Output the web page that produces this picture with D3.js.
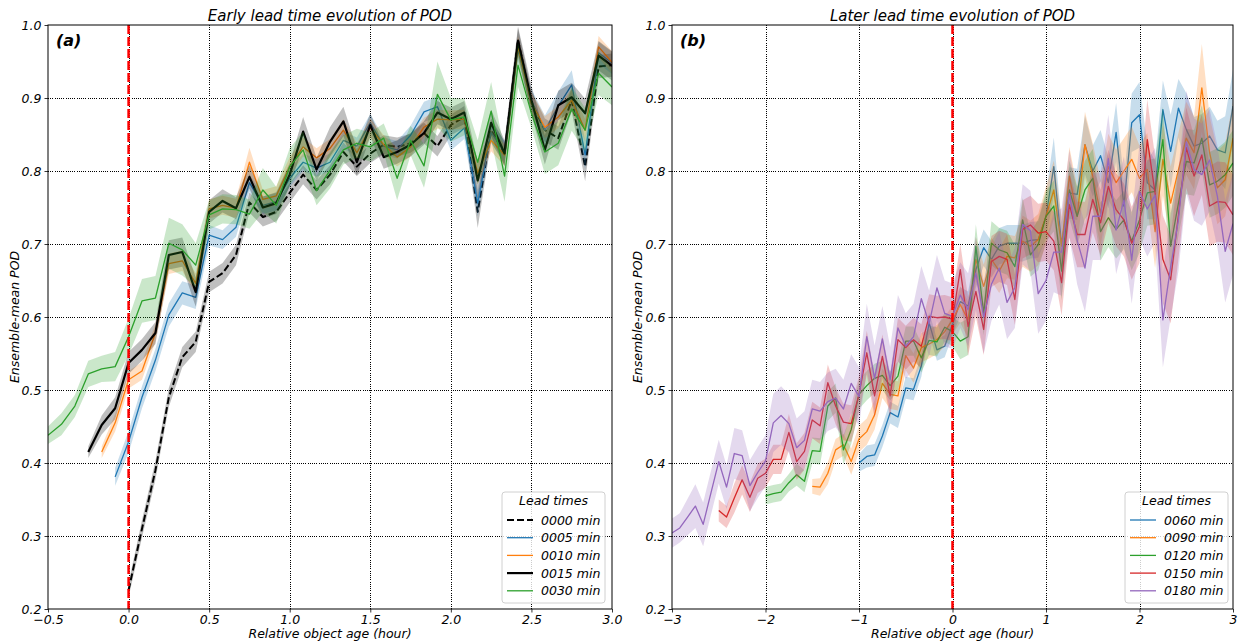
<!DOCTYPE html>
<html>
<head>
<meta charset="utf-8">
<script src="https://cdn.jsdelivr.net/npm/d3@7"></script>
<style>
body { margin: 0; background: #fff; }
svg text { font-family: "DejaVu Sans", sans-serif; font-style: italic; fill: #000; }
</style>
</head>
<body>
<svg id="chart" width="1241" height="641"></svg>
<script>
// ---- data (5-minute steps, x in hours) ----
const STEP = 1 / 12;
const yTicks = [0.2, 0.3, 0.4, 0.5, 0.6, 0.7, 0.8, 0.9, 1.0];
const xTicksA = [-0.5, 0, 0.5, 1, 1.5, 2, 2.5, 3];
const xTicksB = [-3, -2, -1, 0, 1, 2, 3];

// panel (a): early lead times
const leadA = ["0000 min", "0005 min", "0010 min", "0015 min", "0030 min"];
const startA = [0, -1 / 12, -2 / 12, -3 / 12, -6 / 12];
const pod0000 = [0.226,0.31,0.39,0.49,0.545,0.566,0.648,0.66,0.685,0.757,0.737,0.744,0.77,0.795,0.774,0.795,0.826,0.806,0.824,0.836,0.833,0.838,0.852,0.834,0.863,0.874,0.744,0.856,0.824,0.98,0.893,0.856,0.845,0.897,0.806,0.943,0.945];
const pod0005 = [0.381,0.429,0.49,0.541,0.603,0.633,0.627,0.712,0.706,0.723,0.784,0.753,0.758,0.79,0.812,0.804,0.812,0.842,0.834,0.866,0.834,0.829,0.849,0.881,0.888,0.842,0.859,0.756,0.853,0.826,0.966,0.897,0.856,0.889,0.918,0.822,0.962,0.948];
const pod0010 = [0.415,0.455,0.514,0.526,0.578,0.673,0.677,0.646,0.748,0.753,0.749,0.812,0.761,0.766,0.806,0.833,0.818,0.831,0.856,0.825,0.859,0.836,0.819,0.833,0.86,0.871,0.87,0.871,0.797,0.842,0.822,0.97,0.893,0.86,0.874,0.897,0.856,0.97,0.949];
const pod0015 = [0.415,0.452,0.475,0.537,0.555,0.578,0.685,0.689,0.634,0.744,0.759,0.749,0.792,0.75,0.756,0.795,0.854,0.802,0.84,0.868,0.812,0.863,0.819,0.826,0.836,0.852,0.88,0.871,0.88,0.787,0.866,0.824,0.978,0.897,0.829,0.89,0.901,0.879,0.958,0.944];
const pod0030 = [0.438,0.453,0.478,0.522,0.529,0.532,0.573,0.622,0.626,0.701,0.692,0.671,0.74,0.748,0.747,0.741,0.774,0.753,0.806,0.829,0.773,0.801,0.829,0.838,0.833,0.845,0.79,0.842,0.807,0.905,0.87,0.874,0.812,0.882,0.793,0.945,0.879,0.826,0.838,0.885,0.856,0.934,0.915];
// half-width of the shaded spread
const hw0000 = [0.01,0.012,0.013,0.013,0.014,0.014,0.014,0.014,0.014,0.014,0.013,0.013,0.013,0.013,0.013,0.013,0.013,0.013,0.013,0.013,0.013,0.013,0.014,0.014,0.014,0.015,0.022,0.016,0.016,0.016,0.016,0.016,0.016,0.016,0.02,0.016,0.016];
const hw0005 = [0.012,0.015,0.015,0.015,0.016,0.016,0.016,0.014,0.013,0.013,0.012,0.012,0.012,0.012,0.012,0.012,0.012,0.012,0.012,0.012,0.012,0.012,0.013,0.014,0.014,0.014,0.015,0.018,0.015,0.015,0.015,0.015,0.02,0.02,0.02,0.02,0.015,0.015];
const hw0010 = [0.008,0.012,0.012,0.012,0.012,0.014,0.014,0.014,0.013,0.013,0.013,0.02,0.013,0.013,0.013,0.013,0.013,0.013,0.015,0.013,0.013,0.013,0.013,0.013,0.013,0.013,0.013,0.013,0.015,0.015,0.015,0.015,0.015,0.015,0.015,0.015,0.015,0.015,0.015];
const hw0015 = [0.008,0.013,0.015,0.015,0.015,0.015,0.02,0.02,0.02,0.016,0.016,0.015,0.016,0.015,0.015,0.016,0.02,0.016,0.02,0.02,0.018,0.016,0.016,0.016,0.016,0.016,0.016,0.016,0.016,0.025,0.018,0.018,0.02,0.02,0.02,0.02,0.02,0.02,0.02,0.02];
const hw0030 = [0.012,0.015,0.015,0.018,0.018,0.02,0.025,0.03,0.03,0.035,0.035,0.03,0.02,0.02,0.02,0.02,0.03,0.025,0.025,0.025,0.02,0.025,0.02,0.02,0.02,0.02,0.03,0.02,0.03,0.045,0.03,0.025,0.03,0.04,0.035,0.03,0.02,0.03,0.03,0.03,0.03,0.03,0.025];

// panel (b): later lead times
const leadB = ["0060 min", "0090 min", "0120 min", "0150 min", "0180 min"];
const startB = [-1, -1.5, -2, -2.5, -3];
const pod0060 = [0.4,0.409,0.411,0.437,0.469,0.463,0.503,0.501,0.533,0.592,0.555,0.56,0.59,
  0.621,0.615,0.665,0.695,0.679,0.697,0.701,0.701,0.701,0.705,0.706,0.738,0.806,0.7,0.77,0.768,0.836,0.8,0.821,0.784,0.853,0.752,0.866,0.877,0.784,0.774,0.884,0.827,0.886,0.857,0.834,0.838,0.848,0.829,0.825,0.889];
const pod0090 = [0.368,0.367,0.386,0.418,0.425,0.402,0.433,0.443,0.466,0.509,0.494,0.492,0.547,0.53,0.558,0.563,0.569,0.58,0.596,
  0.617,0.596,0.679,0.642,0.679,0.663,0.683,0.681,0.704,0.697,0.706,0.738,0.774,0.697,0.793,0.738,0.836,0.793,0.742,0.806,0.784,0.8,0.816,0.79,0.802,0.717,0.816,0.756,0.802,0.845,0.825,0.914,0.825,0.777,0.788,0.845];
const pod0120 = [0.355,0.358,0.36,0.373,0.384,0.375,0.417,0.416,0.478,0.489,0.418,0.446,0.494,0.506,0.516,0.52,0.506,0.519,0.567,0.567,0.544,0.568,0.566,0.586,0.58,
  0.567,0.573,0.697,0.605,0.701,0.692,0.688,0.669,0.733,0.685,0.699,0.738,0.752,0.663,0.774,0.738,0.774,0.79,0.717,0.736,0.72,0.733,0.704,0.733,0.77,0.772,0.843,0.697,0.756,0.813,0.811,0.845,0.781,0.786,0.795,0.811];
const pod0150 = [0.335,0.326,0.352,0.377,0.353,0.379,0.386,0.405,0.405,0.442,0.402,0.416,0.459,0.451,0.51,0.478,0.456,0.454,0.494,0.551,0.492,0.546,0.492,0.569,0.558,0.569,0.56,0.601,0.599,0.6,0.597,
  0.665,0.587,0.635,0.583,0.676,0.683,0.679,0.624,0.72,0.726,0.715,0.717,0.704,0.647,0.754,0.713,0.713,0.761,0.729,0.779,0.747,0.733,0.701,0.724,0.843,0.77,0.679,0.651,0.74,0.832,0.793,0.822,0.752,0.758,0.757,0.74];
const pod0180 = [0.304,0.311,0.326,0.341,0.316,0.359,0.402,0.367,0.413,0.41,0.369,0.387,0.403,0.455,0.465,0.454,0.421,0.431,0.474,0.471,0.484,0.489,0.474,0.509,0.491,0.573,0.516,0.57,0.514,0.585,0.56,0.573,0.625,0.591,0.64,0.605,0.601,
  0.63,0.61,0.66,0.6,0.645,0.667,0.62,0.64,0.727,0.718,0.632,0.65,0.689,0.689,0.769,0.705,0.667,0.738,0.738,0.817,0.719,0.76,0.678,0.772,0.748,0.767,0.596,0.669,0.733,0.84,0.802,0.795,0.815,0.765,0.69,0.728];
const hw0060 = [0.012,0.015,0.015,0.015,0.015,0.015,0.015,0.015,0.015,0.015,0.015,0.015,0.015,
  0.02,0.02,0.025,0.025,0.025,0.025,0.025,0.025,0.025,0.025,0.025,0.03,0.04,0.03,0.035,0.035,0.04,0.035,0.035,0.035,0.04,0.035,0.04,0.045,0.05,0.04,0.04,0.05,0.04,0.05,0.04,0.04,0.04,0.04,0.05,0.05];
const hw0090 = [0.01,0.012,0.015,0.015,0.015,0.018,0.018,0.018,0.02,0.02,0.02,0.02,0.02,0.02,0.02,0.02,0.02,0.02,0.02,
  0.025,0.025,0.03,0.03,0.03,0.03,0.03,0.03,0.035,0.035,0.035,0.04,0.04,0.04,0.04,0.04,0.045,0.045,0.045,0.045,0.045,0.045,0.045,0.045,0.05,0.05,0.05,0.05,0.05,0.05,0.05,0.06,0.05,0.05,0.05,0.05];
const hw0120 = [0.012,0.012,0.012,0.012,0.015,0.015,0.018,0.018,0.02,0.02,0.02,0.02,0.02,0.02,0.02,0.02,0.02,0.02,0.02,0.02,0.02,0.02,0.02,0.02,0.02,
  0.025,0.025,0.03,0.03,0.03,0.03,0.03,0.03,0.03,0.03,0.035,0.035,0.035,0.04,0.04,0.04,0.04,0.04,0.04,0.04,0.04,0.04,0.04,0.045,0.045,0.045,0.045,0.045,0.045,0.045,0.045,0.045,0.045,0.045,0.045,0.045];
const hw0150 = [0.015,0.015,0.02,0.02,0.02,0.02,0.02,0.02,0.02,0.025,0.025,0.025,0.025,0.025,0.025,0.025,0.025,0.025,0.025,0.03,0.03,0.03,0.03,0.03,0.03,0.03,0.03,0.03,0.03,0.03,0.03,
  0.035,0.04,0.035,0.035,0.035,0.035,0.035,0.035,0.04,0.04,0.04,0.04,0.04,0.045,0.045,0.045,0.045,0.045,0.045,0.05,0.05,0.05,0.05,0.05,0.055,0.05,0.06,0.06,0.06,0.055,0.055,0.055,0.055,0.055,0.055,0.055];
const hw0180 = [0.02,0.02,0.025,0.03,0.03,0.03,0.03,0.03,0.035,0.035,0.035,0.035,0.035,0.04,0.04,0.04,0.04,0.04,0.04,0.04,0.04,0.04,0.04,0.04,0.04,0.045,0.045,0.045,0.045,0.045,0.045,0.045,0.045,0.045,0.045,0.045,0.045,
  0.045,0.05,0.05,0.05,0.05,0.05,0.05,0.055,0.055,0.055,0.055,0.055,0.055,0.06,0.06,0.06,0.06,0.06,0.06,0.06,0.06,0.06,0.06,0.065,0.065,0.065,0.065,0.07,0.07,0.07,0.07,0.07,0.07,0.07,0.07,0.07];

const tab = { blue: "#1f77b4", orange: "#ff7f0e", green: "#2ca02c", red: "#d62728", purple: "#9467bd" };

// ---- build series lists ----
function mk(name, start, vals, hw, color, width, dash) {
  const pts = vals.map((v, i) => ({
    x: start + i * STEP,
    y: v,
    h: hw[i] !== undefined ? hw[i] : hw[hw.length - 1]
  }));
  return { name, pts, color, width, dash };
}

const seriesA = [
  mk(leadA[0], startA[0], pod0000, hw0000, "#000", 2, "7,3"),
  mk(leadA[1], startA[1], pod0005, hw0005, tab.blue, 1.3, null),
  mk(leadA[2], startA[2], pod0010, hw0010, tab.orange, 1.3, null),
  mk(leadA[3], startA[3], pod0015, hw0015, "#000", 2.2, null),
  mk(leadA[4], startA[4], pod0030, hw0030, tab.green, 1.3, null)
];
const seriesB = [
  mk(leadB[0], startB[0], pod0060, hw0060, tab.blue, 1.3, null),
  mk(leadB[1], startB[1], pod0090, hw0090, tab.orange, 1.3, null),
  mk(leadB[2], startB[2], pod0120, hw0120, tab.green, 1.3, null),
  mk(leadB[3], startB[3], pod0150, hw0150, tab.red, 1.3, null),
  mk(leadB[4], startB[4], pod0180, hw0180, tab.purple, 1.3, null)
];

const svg = d3.select("#chart");
const TOP = 25, BOTTOM = 609;

function drawPanel(cfg) {
  const x = d3.scaleLinear().domain(cfg.xDomain).range([cfg.left, cfg.right]);
  const y = d3.scaleLinear().domain([0.2, 1.0]).range([BOTTOM, TOP]);
  const g = svg.append("g");

  g.append("clipPath").attr("id", cfg.id + "clip")
    .append("rect")
    .attr("x", cfg.left).attr("y", TOP)
    .attr("width", cfg.right - cfg.left).attr("height", BOTTOM - TOP);

  // grid (black dotted)
  const grid = g.append("g").attr("stroke", "#000").attr("stroke-width", 1)
    .attr("stroke-dasharray", "1,1.2").attr("shape-rendering", "crispEdges");
  grid.selectAll(".gx").data(cfg.xTicks.slice(1, -1)).enter().append("line")
    .attr("x1", d => Math.round(x(d)) + 0.5).attr("x2", d => Math.round(x(d)) + 0.5)
    .attr("y1", TOP).attr("y2", BOTTOM);
  grid.selectAll(".gy").data(yTicks.slice(1, -1)).enter().append("line")
    .attr("x1", cfg.left).attr("x2", cfg.right)
    .attr("y1", d => Math.round(y(d)) + 0.5).attr("y2", d => Math.round(y(d)) + 0.5);

  // spreads and lines
  const plot = g.append("g").attr("clip-path", "url(#" + cfg.id + "clip)");
  const area = d3.area().x(d => x(d.x)).y0(d => y(d.y - d.h)).y1(d => y(d.y + d.h));
  const line = d3.line().x(d => x(d.x)).y(d => y(d.y));
  cfg.series.forEach(s => {
    plot.append("path").datum(s.pts)
      .attr("d", area)
      .attr("fill", s.color)
      .attr("fill-opacity", 0.25)
      .attr("stroke", "none");
    plot.append("path").datum(s.pts)
      .attr("d", line)
      .attr("fill", "none")
      .attr("stroke", s.color)
      .attr("stroke-width", s.width)
      .attr("stroke-dasharray", s.dash)
      .attr("stroke-linejoin", "round");
  });

  // zero line
  g.append("line")
    .attr("x1", x(0)).attr("x2", x(0))
    .attr("y1", TOP).attr("y2", BOTTOM)
    .attr("stroke", "red").attr("stroke-width", 2.5)
    .attr("stroke-dasharray", "9,3");

  // axes
  const xAxis = d3.axisBottom(x).tickValues(cfg.xTicks).tickFormat(cfg.xFormat)
    .tickSizeInner(3.5).tickSizeOuter(0).tickPadding(3);
  const yAxis = d3.axisLeft(y).tickValues(yTicks).tickFormat(d3.format(".1f"))
    .tickSizeInner(3.5).tickSizeOuter(0).tickPadding(3);
  const ax = g.append("g").attr("transform", "translate(0," + BOTTOM + ")").call(xAxis);
  const ay = g.append("g").attr("transform", "translate(" + cfg.left + ",0)").call(yAxis);
  [ax, ay].forEach(a => {
    a.select(".domain").remove();
    a.selectAll("line").attr("stroke", "#000").attr("stroke-width", 0.8);
    a.selectAll("text").attr("font-size", "12.5px")
      .style("font-family", "DejaVu Sans").style("font-style", "italic");
  });

  // frame
  g.append("rect")
    .attr("x", cfg.left).attr("y", TOP)
    .attr("width", cfg.right - cfg.left).attr("height", BOTTOM - TOP)
    .attr("fill", "none").attr("stroke", "#000").attr("stroke-width", 1);

  // texts
  const cx = (cfg.left + cfg.right) / 2;
  g.append("text").attr("x", cx).attr("y", 21)
    .attr("text-anchor", "middle").attr("font-size", "15px").text(cfg.title);
  g.append("text").attr("x", cx).attr("y", 638)
    .attr("text-anchor", "middle").attr("font-size", "12.5px").text("Relative object age (hour)");
  g.append("text")
    .attr("transform", "translate(" + cfg.ylabX + "," + ((TOP + BOTTOM) / 2) + ") rotate(-90)")
    .attr("text-anchor", "middle").attr("font-size", "12.5px").text("Ensemble-mean POD");
  g.append("text").attr("x", cfg.left + 8).attr("y", 46)
    .attr("font-size", "16px").attr("font-weight", "bold").text(cfg.tag);

  // legend
  const lg = g.append("g").attr("transform", "translate(" + cfg.legX + ",492)");
  lg.append("rect").attr("width", 103).attr("height", 111).attr("rx", 3)
    .attr("fill", "#fff").attr("fill-opacity", 0.8)
    .attr("stroke", "#d0d0d0").attr("stroke-width", 1);
  lg.append("text").attr("x", 51.5).attr("y", 13)
    .attr("text-anchor", "middle").attr("font-size", "12.5px").text("Lead times");
  cfg.series.forEach((s, i) => {
    const yy = 28 + i * 17.7;
    lg.append("line").attr("x1", 5).attr("x2", 31).attr("y1", yy).attr("y2", yy)
      .attr("stroke", s.color).attr("stroke-width", s.width)
      .attr("stroke-dasharray", s.dash);
    lg.append("text").attr("x", 39).attr("y", yy + 4.5)
      .attr("font-size", "12.5px").text(s.name);
  });
}

drawPanel({
  id: "a", left: 48, right: 612, xDomain: [-0.5, 3], xTicks: xTicksA,
  xFormat: d3.format(".1f"), series: seriesA,
  title: "Early lead time evolution of POD", tag: "(a)", ylabX: 19, legX: 502
});
drawPanel({
  id: "b", left: 672, right: 1233, xDomain: [-3, 3], xTicks: xTicksB,
  xFormat: d3.format("d"), series: seriesB,
  title: "Later lead time evolution of POD", tag: "(b)", ylabX: 642, legX: 1125
});
</script>
</body>
</html>
